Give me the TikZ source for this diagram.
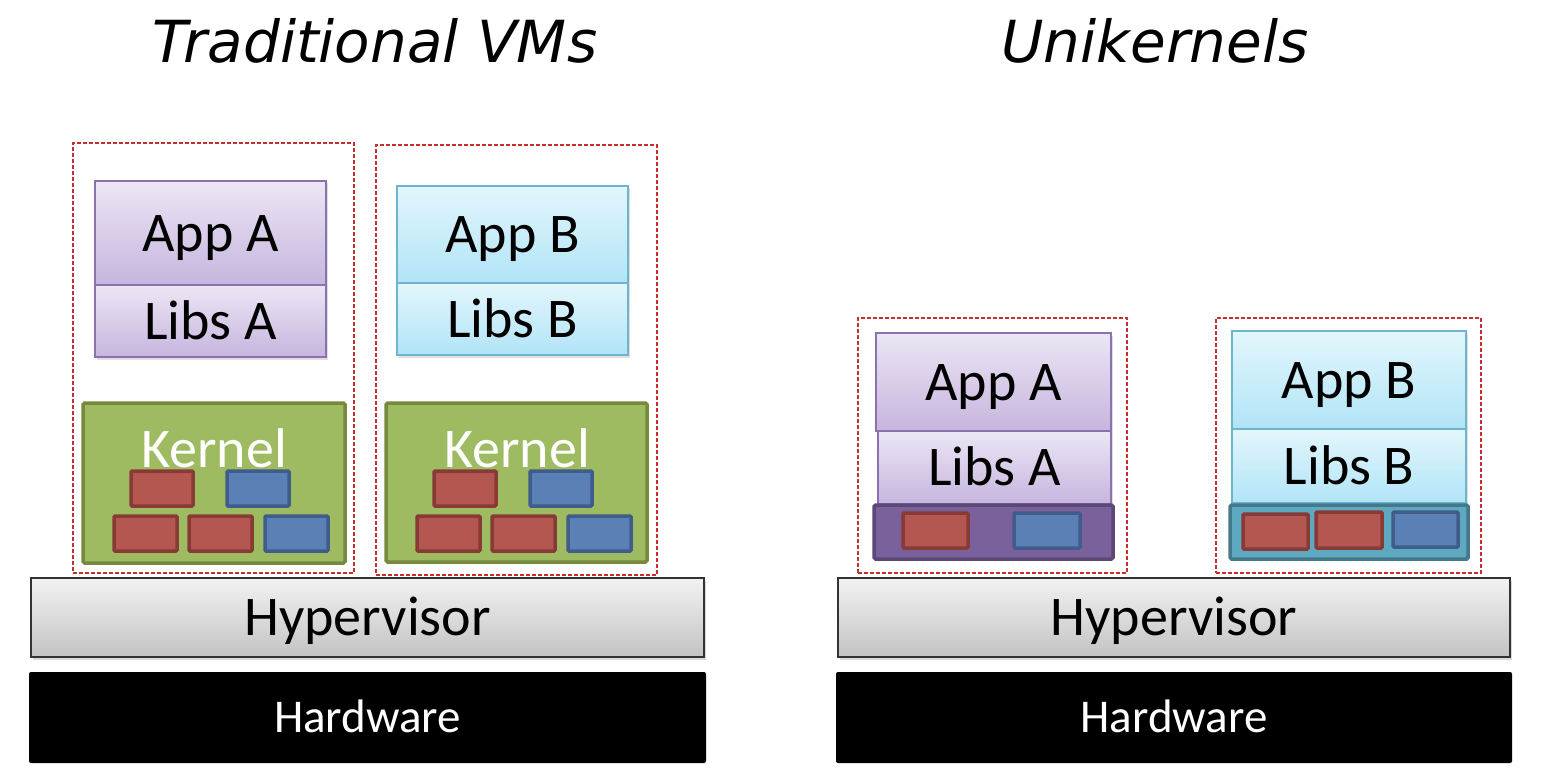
\documentclass[tikz,border=0pt]{standalone}
\usepackage{fontspec}
\setmainfont{Carlito}
\newfontfamily\titlefont{DejaVu Sans}
\usetikzlibrary{shadows}
\definecolor{purpTop}{HTML}{ECE6F5}
\definecolor{purpBot}{HTML}{C6B5DE}
\definecolor{purpDraw}{HTML}{8A72AE}
\definecolor{cyanTop}{HTML}{E3F6FC}
\definecolor{cyanBot}{HTML}{B1E4F7}
\definecolor{cyanDraw}{HTML}{6DB5CC}
\definecolor{kerFill}{HTML}{9EBB61}
\definecolor{kerDraw}{HTML}{76893F}
\definecolor{redFill}{HTML}{B35750}
\definecolor{redDraw}{HTML}{873A36}
\definecolor{bluFill}{HTML}{5A80B6}
\definecolor{bluDraw}{HTML}{3F5C8A}
\definecolor{purBar}{HTML}{7A619B}
\definecolor{purBarDraw}{HTML}{5C4878}
\definecolor{tealBar}{HTML}{5FA9C0}
\definecolor{tealBarDraw}{HTML}{43798A}
\definecolor{hypTop}{HTML}{F2F2F2}
\definecolor{hypBot}{HTML}{C3C3C3}
\definecolor{dashRed}{HTML}{C4302B}
\tikzset{
  every node/.style={inner sep=0pt, outer sep=0pt},
  txt/.style={font=\fontsize{56}{60}\selectfont, text height=36pt, text depth=0pt},
  appA/.style={txt, draw=purpDraw, line width=1.5pt, top color=purpTop, bottom color=purpBot,
    drop shadow={opacity=0.25, shadow xshift=1.5pt, shadow yshift=-2.5pt}},
  appB/.style={txt, draw=cyanDraw, line width=1.5pt, top color=cyanTop, bottom color=cyanBot,
    drop shadow={opacity=0.25, shadow xshift=1.5pt, shadow yshift=-2.5pt}},
  vmbox/.style={draw=dashRed, line width=1.3pt, dash pattern=on 4pt off 2pt},
  kernelbox/.style={draw=kerDraw, fill=kerFill, line width=3.5pt, rounded corners=1.5pt},
  redblk/.style={draw=redDraw, fill=redFill, line width=3.5pt, rounded corners=1pt, anchor=north west},
  blublk/.style={draw=bluDraw, fill=bluFill, line width=3.5pt, rounded corners=1pt, anchor=north west},
  klabel/.style={font=\fontsize{56}{60}\selectfont, text=white, anchor=base},
  hyper/.style={txt, draw=black!80, line width=1.5pt, top color=hypTop, bottom color=hypBot,
    drop shadow={opacity=0.3, shadow xshift=1.5pt, shadow yshift=-2.5pt}},
  hardware/.style={fill=black, text=white, rounded corners=2pt,
    font=\fontsize{47}{50}\selectfont, text height=30pt, text depth=0pt},
  title/.style={font=\titlefont\itshape\fontsize{58}{62}\selectfont, anchor=base},
}
\begin{document}
\begin{tikzpicture}[x=1pt,y=-1pt]
\useasboundingbox (0,0) rectangle (1546,778);

% titles
\node[title] (t1) at (375,63) {Traditional VMs};
\node[title] (t2) at (1155,63) {Unikernels};

% ---- Traditional VMs ----
\node[vmbox, minimum width=281, minimum height=430, anchor=north west] (vm1) at (73,143) {};
\node[vmbox, minimum width=281, minimum height=430, anchor=north west] (vm2) at (376,145) {};

\node[appA, minimum width=231, minimum height=104, anchor=north west] (appA1) at (95,181) {App A};
\node[appA, minimum width=231, minimum height=72, anchor=north west] (libA1) at (95,285) {Libs A};
\node[appB, minimum width=231, minimum height=97, anchor=north west] (appB1) at (397,186) {App B};
\node[appB, minimum width=231, minimum height=72, anchor=north west] (libB1) at (397,283) {Libs B};

\node[kernelbox, minimum width=262, minimum height=160, anchor=north west] (k1) at (83,403) {};
\node[klabel] (k1l) at (214,467) {Kernel};
\node[redblk, minimum width=62, minimum height=35] (k1r1) at (131,471) {};
\node[blublk, minimum width=62, minimum height=35] (k1b1) at (227,471) {};
\node[redblk, minimum width=63, minimum height=35] (k1r2) at (114,516) {};
\node[redblk, minimum width=63, minimum height=35] (k1r3) at (189,516) {};
\node[blublk, minimum width=63, minimum height=35] (k1b2) at (265,516) {};

\node[kernelbox, minimum width=261, minimum height=159, anchor=north west] (k2) at (386,403) {};
\node[klabel] (k2l) at (517,467) {Kernel};
\node[redblk, minimum width=62, minimum height=35] (k2r1) at (434,471) {};
\node[blublk, minimum width=62, minimum height=35] (k2b1) at (530,471) {};
\node[redblk, minimum width=63, minimum height=35] (k2r2) at (417,516) {};
\node[redblk, minimum width=63, minimum height=35] (k2r3) at (492,516) {};
\node[blublk, minimum width=63, minimum height=35] (k2b2) at (568,516) {};

\node[hyper, minimum width=673, minimum height=79, anchor=north west] (hyp1) at (31,578) {Hypervisor};
\node[hardware, minimum width=677, minimum height=91, anchor=north west] (hw1) at (29,672) {Hardware};

% ---- Unikernels ----
\node[vmbox, minimum width=269, minimum height=255, anchor=north west] (uk1) at (858,318) {};
\node[vmbox, minimum width=265, minimum height=255, anchor=north west] (uk2) at (1216,318) {};

\node[appA, minimum width=235, minimum height=98, anchor=north west] (appA2) at (876,333) {App A};
\node[appA, minimum width=233, minimum height=73, anchor=north west] (libA2) at (878,431) {Libs A};
\node[kernelbox, draw=purBarDraw, fill=purBar, minimum width=239, minimum height=54, anchor=north west] (bar1) at (874,505) {};
\node[redblk, minimum width=65, minimum height=35] (u1r) at (903,513) {};
\node[blublk, minimum width=66, minimum height=35] (u1b) at (1014,513) {};

\node[appB, minimum width=234, minimum height=98, anchor=north west] (appB2) at (1232,331) {App B};
\node[appB, minimum width=234, minimum height=74, anchor=north west] (libB2) at (1232,429) {Libs B};
\node[kernelbox, draw=tealBarDraw, fill=tealBar, minimum width=238, minimum height=54, anchor=north west] (bar2) at (1230,505) {};
\node[redblk, minimum width=65, minimum height=35] (u2r1) at (1243,514) {};
\node[redblk, minimum width=66, minimum height=36] (u2r2) at (1316,512) {};
\node[blublk, minimum width=65, minimum height=35] (u2b) at (1393,512) {};

\node[hyper, minimum width=672, minimum height=79, anchor=north west] (hyp2) at (838,578) {Hypervisor};
\node[hardware, minimum width=676, minimum height=91, anchor=north west] (hw2) at (836,672) {Hardware};
\end{tikzpicture}
\end{document}
